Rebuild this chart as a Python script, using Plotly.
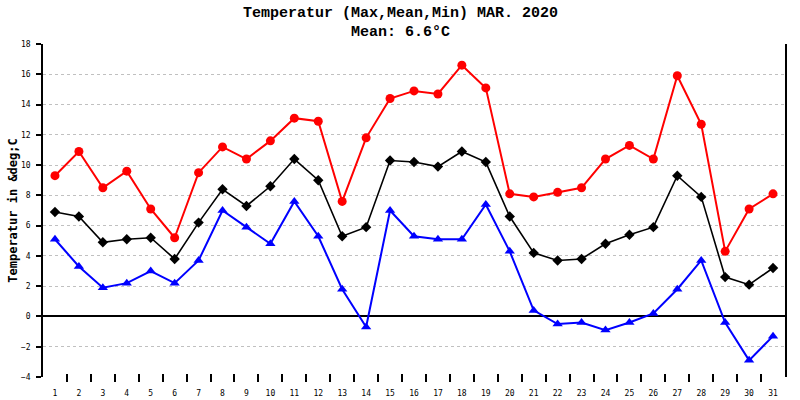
import plotly.graph_objects as go

days = list(range(1, 32))
t_max = [9.3, 10.9, 8.5, 9.6, 7.1, 5.2, 9.5, 11.2, 10.4, 11.6, 13.1, 12.9, 7.6, 11.8, 14.4,
         14.9, 14.7, 16.6, 15.1, 8.1, 7.9, 8.2, 8.5, 10.4, 11.3, 10.4, 15.9, 12.7, 4.3, 7.1, 8.1]
t_mean = [6.9, 6.6, 4.9, 5.1, 5.2, 3.8, 6.2, 8.4, 7.3, 8.6, 10.4, 9.0, 5.3, 5.9, 10.3,
          10.2, 9.9, 10.9, 10.2, 6.6, 4.2, 3.7, 3.8, 4.8, 5.4, 5.9, 9.3, 7.9, 2.6, 2.1, 3.2]
t_min = [5.1, 3.3, 1.9, 2.2, 3.0, 2.2, 3.7, 7.0, 5.9, 4.8, 7.6, 5.3, 1.8, -0.7, 7.0,
         5.3, 5.1, 5.1, 7.4, 4.3, 0.4, -0.5, -0.4, -0.9, -0.4, 0.2, 1.8, 3.7, -0.4, -2.9, -1.3]
y_ticks = list(range(-4, 19, 2))
half_ticks = [d + 0.5 for d in days[:-1]]

mono = "DejaVu Sans Mono"
title_font = dict(family="Liberation Mono", size=15, color="black", weight="bold")
fig_w, fig_h = 800, 400
m_l, m_r, m_t, m_b = 43, 15, 44, 18
plot_h = fig_h - m_t - m_b
# title is centred on the page, not on the plot area
title_dx = fig_w / 2 - (m_l + (fig_w - m_l - m_r) / 2)

fig = go.Figure()
fig.add_trace(go.Scatter(x=days, y=t_max, mode="lines+markers", name="Max",
                         line=dict(color="#ff0000", width=2),
                         marker=dict(symbol="circle", size=9, color="#ff0000")))
fig.add_trace(go.Scatter(x=days, y=t_mean, mode="lines+markers", name="Mean",
                         line=dict(color="#000000", width=1.6),
                         marker=dict(symbol="diamond", size=8, color="#000000")))
fig.add_trace(go.Scatter(x=days, y=t_min, mode="lines+markers", name="Min",
                         line=dict(color="#0000ff", width=2),
                         marker=dict(symbol="triangle-up", size=9, color="#0000ff")))
# empty trace to carry the tick-only x axis
fig.add_trace(go.Scatter(x=[], y=[], xaxis="x2", showlegend=False))

fig.update_layout(
    width=fig_w, height=fig_h,
    margin=dict(l=m_l, r=m_r, t=m_t, b=m_b),
    paper_bgcolor="white", plot_bgcolor="white",
    showlegend=False,
    font=dict(family=mono, size=8, color="black"),
    xaxis=dict(range=[0.5, 31.5], tickvals=days, ticks="", showgrid=False,
               zeroline=False, showline=False, ticklabelstandoff=5,
               anchor="free", position=0, automargin=False,
               tickfont=dict(family=mono, size=8)),
    xaxis2=dict(range=[0.5, 31.5], overlaying="x", tickvals=half_ticks, ticks="inside",
                ticklen=8, tickwidth=1.5, tickcolor="black", showticklabels=False,
                anchor="free", position=0, automargin=False,
                showgrid=False, zeroline=False, showline=False),
    yaxis=dict(range=[-4, 18], tickvals=y_ticks, domain=[5 / plot_h, 1],
               ticks="outside", ticklen=5, automargin=False,
               tickcolor="black", tickwidth=1.5, showline=True, linecolor="black",
               linewidth=1.5, mirror=True, showgrid=True, gridcolor="#c0c0c0",
               griddash="3px,3px", gridwidth=1, zeroline=True, zerolinecolor="black",
               zerolinewidth=1.5, ticklabelstandoff=4,
               title=dict(text="<b>Temperatur in &amp;deg;C</b>", standoff=1,
                          font=dict(family=mono, size=12, color="black")),
               tickfont=dict(family=mono, size=8)),
    annotations=[
        dict(text="Temperatur (Max,Mean,Min) MAR. 2020", xref="paper", yref="paper",
             x=0.5, y=1, xanchor="center", yanchor="middle", xshift=title_dx, yshift=31,
             showarrow=False, font=title_font),
        dict(text="Mean: 6.6°C", xref="paper", yref="paper",
             x=0.5, y=1, xanchor="center", yanchor="middle", xshift=title_dx, yshift=12,
             showarrow=False, font=title_font),
    ],
)

# drop the default 8px body margin so the figure fills the window
fig.write_html("out.html", config={"displayModeBar": False},
               post_script="document.body.style.margin = '0';")
